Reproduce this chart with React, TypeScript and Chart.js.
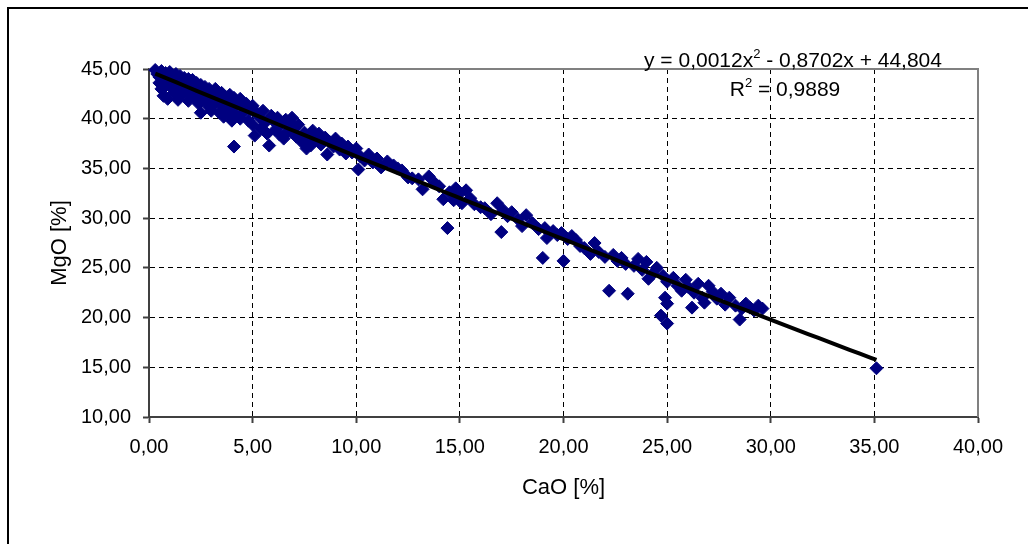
import React, { useEffect, useRef } from 'react';
import { Chart, registerables } from 'chart.js';

Chart.register(...registerables);

// CaO [%] values of the samples
const caO = [
  0.3, 0.4, 0.5, 0.5, 0.6, 0.6, 0.7, 0.7, 0.8, 0.8, 0.9, 0.9, 1.0, 1.0, 1.1, 1.1, 1.2, 1.2, 1.3, 1.3,
  1.4, 1.4, 1.5, 1.5, 1.6, 1.6, 1.7, 1.8, 1.8, 1.9, 1.9, 2.0, 2.0, 2.1, 2.2, 2.2, 2.3, 2.4, 2.4, 2.5,
  2.5, 2.6,
  2.7, 2.7, 2.8, 2.9, 2.9, 3.0, 3.0, 3.1, 3.2, 3.2, 3.3, 3.4, 3.4, 3.5, 3.6, 3.6, 3.7, 3.8, 3.8, 3.9,
  4.0, 4.0, 4.1, 4.1, 4.2, 4.3, 4.4, 4.4, 4.5, 4.6, 4.7, 4.8, 4.9, 5.0, 5.0,
  5.1, 5.2, 5.3, 5.4, 5.5, 5.6, 5.7, 5.8, 5.9, 6.0, 6.1, 6.2, 6.3, 6.4, 6.5, 6.6, 6.7, 6.8, 6.9, 7.0,
  7.1, 7.2, 7.4, 7.5, 7.6,
  7.7, 7.8, 7.9, 8.0, 8.2, 8.3, 8.5, 8.6, 8.7, 8.9, 9.0, 9.2, 9.3, 9.5, 9.6, 9.8, 10.0, 10.1, 10.2,
  10.4, 10.6, 10.8, 11.0, 11.2, 11.5, 11.8, 12.0, 12.2, 12.5, 12.7, 13.0, 13.2, 13.5, 13.8, 14.0, 14.2,
  14.4, 14.5, 14.7, 14.8, 15.0, 15.1,
  15.3, 15.5, 15.7, 16.0, 16.2, 16.5, 16.8, 17.0, 17.1, 17.3, 17.5, 17.8, 18.0, 18.2, 18.5, 18.8, 19.0,
  19.1, 19.2, 19.5, 19.7, 19.9, 20.0, 20.2,
  20.4, 20.6, 20.8, 21.0, 21.3, 21.5, 21.7, 22.0, 22.2, 22.4, 22.6, 22.8, 23.0, 23.1, 23.4, 23.6, 23.8,
  24.0, 24.1, 24.3, 24.5, 24.7, 24.8, 24.9, 25.0, 25.0, 25.0,
  25.3, 25.5, 25.7, 25.9, 26.0, 26.2, 26.3, 26.5, 26.7, 26.8, 27.0, 27.2, 27.4, 27.6, 27.8, 28.0, 28.3,
  28.5, 28.6, 28.8, 29.0, 29.2, 29.4, 29.6, 35.1,
];

// MgO [%] values of the samples
const mgO = [
  44.9, 44.5, 44.2, 43.6, 44.8, 43.0, 42.3, 44.0, 44.6, 43.3, 42.0, 44.2, 44.7, 43.8, 43.1, 44.4, 42.6, 44.0, 44.5, 43.5,
  41.9, 42.9, 44.3, 43.7, 43.2, 42.4, 44.1, 43.6, 42.8, 44.0, 41.8, 43.3, 42.5, 43.9, 42.1, 43.0, 43.6, 41.5, 42.7, 43.4,
  40.6, 42.2,
  43.2, 41.8, 42.5, 43.0, 41.2, 42.7, 40.8, 42.0, 43.0, 41.5, 42.3, 40.6, 41.9, 42.6, 41.2, 40.2, 42.2, 41.7, 40.5, 42.4,
  41.0, 39.8, 37.2, 42.1, 40.4, 41.6, 42.0, 40.0, 41.2, 40.7, 41.5, 39.8, 40.9, 41.3, 39.4,
  38.3, 40.6, 40.2, 39.0, 40.8, 39.6, 38.5, 37.3, 40.3, 39.8, 38.9, 40.1, 38.4, 39.5, 38.0, 39.9, 38.7, 39.7, 40.1, 39.0,
  38.2, 39.4, 37.6, 38.6, 37.0,
  38.0, 37.3, 38.8, 37.8, 38.5, 37.4, 38.1, 36.4, 37.7, 37.2, 38.0, 36.9, 37.5, 36.5, 37.2, 36.6, 37.0, 34.9, 36.2,
  35.8, 36.4, 35.6, 36.0, 35.1, 35.7, 35.3, 35.0, 34.8, 34.1, 34.0, 33.9, 32.9, 34.2, 33.5, 33.2, 31.9,
  29.0, 32.6, 31.8, 33.0, 32.5, 31.5,
  32.8, 32.0, 31.4, 31.1, 31.0, 30.4, 31.5, 28.6, 30.8, 30.2, 30.6, 29.9, 29.2, 30.3, 29.5, 28.9, 26.0,
  29.0, 28.0, 28.7, 28.3, 28.5, 25.7, 27.9,
  28.2, 27.8, 27.2, 27.0, 26.4, 27.5, 26.6, 26.1, 22.7, 26.3, 25.7, 26.0, 25.4, 22.4, 25.2, 25.9, 24.8,
  25.6, 23.9, 24.4, 25.0, 20.2, 24.2, 22.0, 21.4, 19.4, 23.6,
  24.0, 23.2, 22.7, 23.8, 23.1, 21.0, 22.5, 23.4, 22.0, 21.5, 23.2, 22.6, 21.9, 22.4, 21.3, 22.0, 21.2,
  19.8, 20.9, 21.4, 21.0, 20.7, 21.2, 20.9, 14.9,
];

const xTickLabels = ['0,00', '5,00', '10,00', '15,00', '20,00', '25,00', '30,00', '35,00', '40,00'];
const yTickLabels = ['10,00', '15,00', '20,00', '25,00', '30,00', '35,00', '40,00', '45,00'];

// polynomial trend line printed on the chart: y = 0,0012x^2 - 0,8702x + 44,804
const trendA = 0.0012;
const trendB = -0.8702;
const trendC = 44.804;
const trendStart = 0.3;
const trendEnd = 35.1;

const xTitle = 'CaO [%]';
const yTitle = 'MgO [%]';

const FONT = '"Liberation Sans", Arial, sans-serif';

export default function App() {
  const ref = useRef<HTMLCanvasElement | null>(null);

  useEffect(() => {
    if (!ref.current) return;

    const points = caO.map((x, i) => ({ x, y: mgO[i] }));
    const trend: { x: number; y: number }[] = [];
    for (let x = trendStart; x < trendEnd; x += 0.5) {
      trend.push({ x, y: trendA * x * x + trendB * x + trendC });
    }
    trend.push({ x: trendEnd, y: trendA * trendEnd * trendEnd + trendB * trendEnd + trendC });

    const frame = {
      id: 'frame',
      beforeDatasetsDraw(chart: any) {
        const { ctx, chartArea } = chart;
        ctx.save();
        ctx.strokeStyle = '#808080';
        ctx.lineWidth = 2;
        ctx.beginPath();
        ctx.moveTo(chartArea.left, chartArea.top);
        ctx.lineTo(chartArea.right, chartArea.top);
        ctx.lineTo(chartArea.right, chartArea.bottom);
        ctx.stroke();
        ctx.restore();
      },
      afterDraw(chart: any) {
        const { ctx } = chart;
        ctx.save();
        ctx.fillStyle = '#000';
        ctx.textBaseline = 'alphabetic';
        const drawParts = (parts: [string, boolean][], cx: number, base: number) => {
          const big = `21px ${FONT}`;
          const small = `13px ${FONT}`;
          let w = 0;
          for (const [t, sup] of parts) {
            ctx.font = sup ? small : big;
            w += ctx.measureText(t).width;
          }
          let x = cx - w / 2;
          for (const [t, sup] of parts) {
            ctx.font = sup ? small : big;
            ctx.fillText(t, x, sup ? base - 9 : base);
            x += ctx.measureText(t).width;
          }
        };
        drawParts([['y = 0,0012x', false], ['2', true], [' - 0,8702x + 44,804', false]], 784, 58);
        drawParts([['R', false], ['2', true], [' = 0,9889', false]], 776, 87);
        ctx.restore();
      },
    };

    const chart = new Chart(ref.current, {
      type: 'scatter',
      data: {
        datasets: [
          {
            type: 'line',
            data: trend,
            borderColor: '#000000',
            borderWidth: 4,
            pointRadius: 0,
            fill: false,
            tension: 0,
            order: 0,
          } as any,
          {
            type: 'scatter',
            data: points,
            pointStyle: 'rectRot',
            pointRadius: 6.5,
            pointBackgroundColor: '#000080',
            pointBorderColor: '#000080',
            pointBorderWidth: 1,
            clip: false,
            order: 1,
          } as any,
        ],
      },
      options: {
        responsive: false,
        animation: false,
        events: [],
        layout: { padding: { left: 0, top: 60, right: 50, bottom: 27 } },
        plugins: { legend: { display: false }, tooltip: { enabled: false } },
        scales: {
          x: {
            type: 'linear',
            min: 0,
            max: 40,
            afterFit: (s: any) => { s.height = 100; },
            ticks: {
              stepSize: 5,
              padding: 12,
              color: '#000',
              font: { family: FONT, size: 20 },
              callback: (v: any) => xTickLabels[Math.round(Number(v) / 5)],
            },
            grid: {
              color: '#000',
              lineWidth: 1,
              tickLength: 6,
              tickColor: '#404040',
              tickWidth: 2,
            },
            border: { color: '#404040', width: 2, dash: [5, 4] },
            title: {
              display: true,
              text: xTitle,
              color: '#000',
              font: { family: FONT, size: 22 },
              padding: { top: 0, bottom: 16 },
            },
          },
          y: {
            type: 'linear',
            min: 10,
            max: 45,
            afterFit: (s: any) => { s.width = 140; },
            ticks: {
              stepSize: 5,
              padding: 12,
              color: '#000',
              font: { family: FONT, size: 20 },
              callback: (v: any) => yTickLabels[Math.round((Number(v) - 10) / 5)],
            },
            grid: {
              color: '#000',
              lineWidth: 1,
              tickLength: 6,
              tickColor: '#404040',
              tickWidth: 2,
            },
            border: { color: '#404040', width: 2, dash: [5, 4] },
            title: {
              display: true,
              text: yTitle,
              color: '#000',
              font: { family: FONT, size: 22 },
              padding: { top: 38, bottom: 0 },
            },
          },
        },
      },
      plugins: [frame],
    });

    return () => chart.destroy();
  }, []);

  return (
    <div
      style={{
        position: 'absolute',
        left: 7,
        top: 7,
        width: 1019,
        height: 535,
        borderLeft: '2px solid #000',
        borderTop: '2px solid #000',
        background: '#fff',
      }}
    >
      <canvas ref={ref} width={1019} height={535} style={{ display: 'block', width: 1019, height: 535 }} />
    </div>
  );
}
